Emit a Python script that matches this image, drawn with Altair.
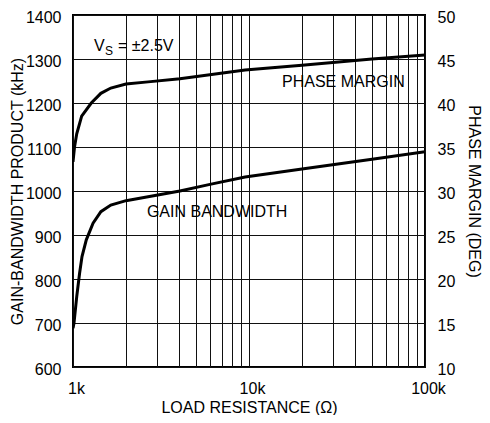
import altair as alt
import pandas as pd

FONT = "Liberation Sans"
FS = 16

# Gain-bandwidth (kHz) vs load resistance (ohms)
gbw_r = [1000, 1013, 1050, 1090, 1125, 1190, 1300, 1440, 1640, 2000, 2670, 4050, 6000, 9500, 20000, 50000, 100000]
gbw_v = [688, 700, 760, 813, 851, 889, 927, 953, 968, 978, 987, 1000, 1015, 1032, 1050, 1072, 1089]

# Phase margin (deg) vs load resistance (ohms)
pm_r = [1000, 1020, 1050, 1120, 1270, 1440, 1640, 2000, 2670, 4050, 9500, 20000, 50000, 100000]
pm_v = [33.3, 35.0, 36.5, 38.5, 40.0, 41.1, 41.7, 42.15, 42.4, 42.75, 43.75, 44.3, 45.0, 45.45]

x_ticks = [1000, 2000, 3000, 4000, 5000, 6000, 7000, 8000, 9000,
           10000, 20000, 30000, 40000, 50000, 60000, 70000, 80000, 90000, 100000]
left_ticks = [600, 700, 800, 900, 1000, 1100, 1200, 1300, 1400]
right_ticks = [10, 15, 20, 25, 30, 35, 40, 45, 50]

# annotations (text, x in ohms, y in kHz on left scale)
ann_text = ["PHASE MARGIN", "GAIN BANDWIDTH"]
ann_x = [15400, 2630]
ann_y = [1248, 952]

vs_x = [1316]
vs_y = [1330]

df_gbw = pd.DataFrame({"R": gbw_r, "GBW": gbw_v})
df_pm = pd.DataFrame({"R": pm_r, "PM": pm_v})
df_ann = pd.DataFrame({"t": ann_text, "R": ann_x, "Y": ann_y})
df_vs = pd.DataFrame({"R": vs_x, "Y": vs_y})

xscale = alt.Scale(type="log", domain=[1000, 100000], nice=False)
lscale = alt.Scale(domain=[600, 1400], nice=False, zero=False)
rscale = alt.Scale(domain=[10, 50], nice=False, zero=False)

x_axis = alt.Axis(
    values=x_ticks,
    labelExpr="datum.value == 1000 ? '1k' : datum.value == 10000 ? '10k' : datum.value == 100000 ? '100k' : ''",
    title="LOAD RESISTANCE (Ω)",
    grid=True, gridColor="#111", gridWidth=1, gridOpacity=1,
    ticks=False, domain=False,
    labelFont=FONT, labelFontSize=FS, labelColor="black", labelPadding=13, labelOffset=3,
    labelFlush=False, labelOverlap=False,
    titleFont=FONT, titleFontSize=FS, titleFontWeight="normal", titleColor="black",
    titleY=40, titleBaseline="middle",
)

l_axis = alt.Axis(
    values=left_ticks, title="GAIN-BANDWIDTH PRODUCT (kHz)", format="d",
    grid=True, gridColor="#111", gridWidth=1, gridOpacity=1,
    ticks=False, domain=False,
    labelFont=FONT, labelFontSize=FS, labelColor="black", labelPadding=12, labelOffset=2,
    labelFlush=False,
    titleFont=FONT, titleFontSize=FS, titleFontWeight="normal", titleColor="black",
    titleX=-56, titleY=176, titleAngle=270, titleBaseline="middle", titleAlign="center",
)

r_axis = alt.Axis(
    values=right_ticks, title="PHASE MARGIN (DEG)", orient="right", format="d",
    grid=False, ticks=False, domain=False,
    labelFont=FONT, labelFontSize=FS, labelColor="black", labelPadding=12, labelOffset=2,
    labelFlush=False,
    titleFont=FONT, titleFontSize=FS, titleFontWeight="normal", titleColor="black",
    titleX=48, titleY=176, titleAngle=90, titleBaseline="middle", titleAlign="center",
)

gbw_line = alt.Chart(df_gbw).mark_line(color="black", strokeWidth=3, clip=True).encode(
    x=alt.X("R:Q", scale=xscale, axis=x_axis),
    y=alt.Y("GBW:Q", scale=lscale, axis=l_axis),
)

ann = alt.Chart(df_ann).mark_text(font=FONT, fontSize=FS, align="left", baseline="middle", color="black").encode(
    x=alt.X("R:Q", scale=xscale, axis=x_axis),
    y=alt.Y("Y:Q", scale=lscale, axis=l_axis),
    text="t:N",
)

vs_v = alt.Chart(df_vs).mark_text(font=FONT, fontSize=FS, align="left", baseline="middle", color="black", text="V").encode(
    x=alt.X("R:Q", scale=xscale, axis=x_axis), y=alt.Y("Y:Q", scale=lscale, axis=l_axis))
vs_s = alt.Chart(df_vs).mark_text(font=FONT, fontSize=12, align="left", baseline="middle", color="black", text="S", dx=11, dy=5).encode(
    x=alt.X("R:Q", scale=xscale, axis=x_axis), y=alt.Y("Y:Q", scale=lscale, axis=l_axis))
vs_eq = alt.Chart(df_vs).mark_text(font=FONT, fontSize=FS, align="left", baseline="middle", color="black", text="= ±2.5V", dx=24).encode(
    x=alt.X("R:Q", scale=xscale, axis=x_axis), y=alt.Y("Y:Q", scale=lscale, axis=l_axis))

left_layer = alt.layer(gbw_line, ann, vs_v, vs_s, vs_eq)

pm_line = alt.Chart(df_pm).mark_line(color="black", strokeWidth=3, clip=True).encode(
    x=alt.X("R:Q", scale=xscale, axis=x_axis),
    y=alt.Y("PM:Q", scale=rscale, axis=r_axis),
)

chart = alt.layer(left_layer, pm_line).resolve_scale(y="independent").properties(
    width=352, height=352,
    autosize=alt.AutoSizeParams(type="none"),
    padding={"left": 65, "top": 7, "right": 57, "bottom": 48},
    background="white",
).configure_view(stroke="black", strokeWidth=2)

chart.save("out.html", embed_options={"renderer": "svg", "actions": False})
